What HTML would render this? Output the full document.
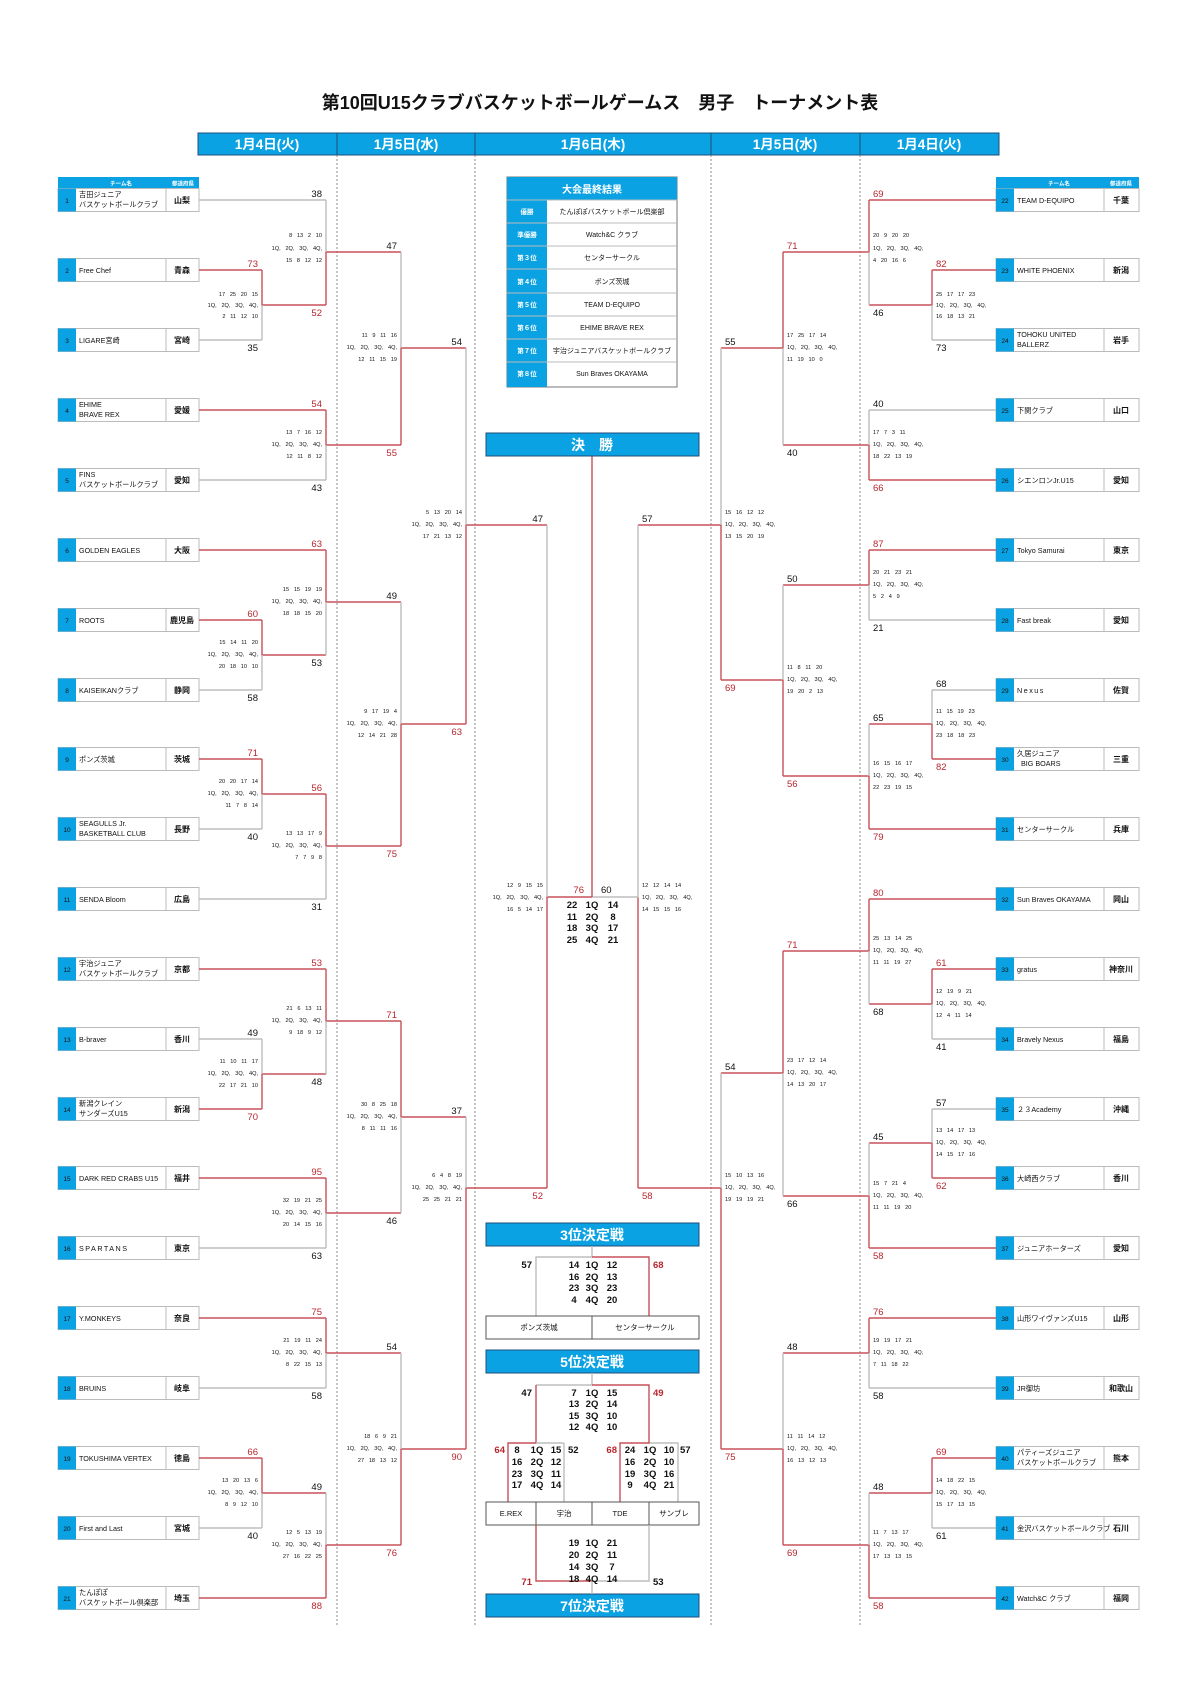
<!DOCTYPE html>
<html><head><meta charset="utf-8"><style>
html,body{margin:0;padding:0;background:#fff}
svg{display:block}
text{font-family:"Liberation Sans","Noto Sans CJK JP",sans-serif;fill:#111}
.g{stroke:#bdbdbd;stroke-width:1.4;fill:none}
.r{stroke:#c8505a;stroke-width:1.4;fill:none}
.lbl{font-size:9.5px}
.rd{fill:#b8262e}
.sb{font-size:5.6px;word-spacing:3.2px}
.nm{font-size:7.2px}
.pf{font-size:8px;font-weight:bold}
.no{font-size:6.5px;fill:#fff}
.wt{fill:#fff;font-weight:bold}
.q{font-size:9.5px;font-weight:bold}
</style></head><body>
<svg width="1200" height="1697" viewBox="0 0 1200 1697" xmlns="http://www.w3.org/2000/svg">
<text x="600" y="109" text-anchor="middle" style="font-size:18px;font-weight:bold">第10回U15クラブバスケットボールゲームス　男子　トーナメント表</text>
<!-- header -->
<rect x="198" y="133" width="801" height="22" fill="#0aa2e2" stroke="#1f4e79" stroke-width="1"/>
<path d="M337 133V155M475 133V155M711 133V155M860 133V155" stroke="#1f4e79" stroke-width="1"/>
<g class="wt" style="font-size:13.5px" text-anchor="middle">
<text x="267" y="149" class="wt">1月4日(火)</text><text x="406" y="149" class="wt">1月5日(水)</text><text x="593" y="149" class="wt">1月6日(木)</text><text x="785" y="149" class="wt">1月5日(水)</text><text x="929" y="149" class="wt">1月4日(火)</text>
</g>
<path d="M337 155V1625M475 155V1625M711 155V1625M860 155V1625" stroke="#888" stroke-width="1" stroke-dasharray="2,2"/>

<!-- team tables headers -->
<rect x="58" y="177" width="141" height="12" fill="#0aa2e2"/>
<rect x="996" y="177" width="143" height="12" fill="#0aa2e2"/>
<g style="font-size:5.5px" text-anchor="middle"><text x="121" y="185.5" class="wt">チーム名</text><text x="183" y="185.5" class="wt">都道府県</text><text x="1059" y="185.5" class="wt">チーム名</text><text x="1121" y="185.5" class="wt">都道府県</text></g>

<!-- LEFT TEAMS -->
<g fill="#fff" stroke="#bbb" stroke-width="1">
<rect x="58" y="188.5" width="141" height="23"/><rect x="58" y="258.5" width="141" height="23"/><rect x="58" y="328.5" width="141" height="23"/><rect x="58" y="398.5" width="141" height="23"/><rect x="58" y="468.5" width="141" height="23"/><rect x="58" y="538.5" width="141" height="23"/><rect x="58" y="608.5" width="141" height="23"/><rect x="58" y="678.5" width="141" height="23"/><rect x="58" y="747.5" width="141" height="23"/><rect x="58" y="817.5" width="141" height="23"/><rect x="58" y="887.5" width="141" height="23"/><rect x="58" y="957.5" width="141" height="23"/><rect x="58" y="1027.5" width="141" height="23"/><rect x="58" y="1097.5" width="141" height="23"/><rect x="58" y="1166.5" width="141" height="23"/><rect x="58" y="1236.5" width="141" height="23"/><rect x="58" y="1306.5" width="141" height="23"/><rect x="58" y="1376.5" width="141" height="23"/><rect x="58" y="1446.5" width="141" height="23"/><rect x="58" y="1516.5" width="141" height="23"/><rect x="58" y="1586.5" width="141" height="23"/>
</g>
<g fill="#0aa2e2">
<rect x="58" y="188.5" width="18" height="23"/><rect x="58" y="258.5" width="18" height="23"/><rect x="58" y="328.5" width="18" height="23"/><rect x="58" y="398.5" width="18" height="23"/><rect x="58" y="468.5" width="18" height="23"/><rect x="58" y="538.5" width="18" height="23"/><rect x="58" y="608.5" width="18" height="23"/><rect x="58" y="678.5" width="18" height="23"/><rect x="58" y="747.5" width="18" height="23"/><rect x="58" y="817.5" width="18" height="23"/><rect x="58" y="887.5" width="18" height="23"/><rect x="58" y="957.5" width="18" height="23"/><rect x="58" y="1027.5" width="18" height="23"/><rect x="58" y="1097.5" width="18" height="23"/><rect x="58" y="1166.5" width="18" height="23"/><rect x="58" y="1236.5" width="18" height="23"/><rect x="58" y="1306.5" width="18" height="23"/><rect x="58" y="1376.5" width="18" height="23"/><rect x="58" y="1446.5" width="18" height="23"/><rect x="58" y="1516.5" width="18" height="23"/><rect x="58" y="1586.5" width="18" height="23"/>
</g>
<path stroke="#bbb" fill="none" d="M166 188.5v23M166 258.5v23M166 328.5v23M166 398.5v23M166 468.5v23M166 538.5v23M166 608.5v23M166 678.5v23M166 747.5v23M166 817.5v23M166 887.5v23M166 957.5v23M166 1027.5v23M166 1097.5v23M166 1166.5v23M166 1236.5v23M166 1306.5v23M166 1376.5v23M166 1446.5v23M166 1516.5v23M166 1586.5v23"/>
<g class="no" text-anchor="middle">
<text x="67" y="203">1</text><text x="67" y="273">2</text><text x="67" y="343">3</text><text x="67" y="413">4</text><text x="67" y="483">5</text><text x="67" y="553">6</text><text x="67" y="623">7</text><text x="67" y="693">8</text><text x="67" y="762">9</text><text x="67" y="832">10</text><text x="67" y="902">11</text><text x="67" y="972">12</text><text x="67" y="1042">13</text><text x="67" y="1112">14</text><text x="67" y="1181">15</text><text x="67" y="1251">16</text><text x="67" y="1321">17</text><text x="67" y="1391">18</text><text x="67" y="1461">19</text><text x="67" y="1531">20</text><text x="67" y="1601">21</text>
</g>
<g class="nm">
<text x="79" y="197">吉田ジュニア</text><text x="79" y="207">バスケットボールクラブ</text>
<text x="79" y="273">Free Chef</text>
<text x="79" y="343">LIGARE宮崎</text>
<text x="79" y="407">EHIME</text><text x="79" y="417">BRAVE REX</text>
<text x="79" y="477">FINS</text><text x="79" y="487">バスケットボールクラブ</text>
<text x="79" y="553">GOLDEN EAGLES</text>
<text x="79" y="623">ROOTS</text>
<text x="79" y="693">KAISEIKANクラブ</text>
<text x="79" y="762">ポンズ茨城</text>
<text x="79" y="826">SEAGULLS Jr.</text><text x="79" y="836">BASKETBALL CLUB</text>
<text x="79" y="902">SENDA Bloom</text>
<text x="79" y="966">宇治ジュニア</text><text x="79" y="976">バスケットボールクラブ</text>
<text x="79" y="1042">B-braver</text>
<text x="79" y="1106">新潟クレイン</text><text x="79" y="1116">サンダーズU15</text>
<text x="79" y="1181">DARK RED CRABS U15</text>
<text x="79" y="1251" style="letter-spacing:1.5px">SPARTANS</text>
<text x="79" y="1321">Y.MONKEYS</text>
<text x="79" y="1391">BRUINS</text>
<text x="79" y="1461">TOKUSHIMA VERTEX</text>
<text x="79" y="1531">First and Last</text>
<text x="79" y="1595">たんぽぽ</text><text x="79" y="1605">バスケットボール倶楽部</text>
</g>
<g class="pf" text-anchor="middle">
<text x="182" y="203">山梨</text><text x="182" y="273">青森</text><text x="182" y="343">宮崎</text><text x="182" y="413">愛媛</text><text x="182" y="483">愛知</text><text x="182" y="553">大阪</text><text x="182" y="623">鹿児島</text><text x="182" y="693">静岡</text><text x="182" y="762">茨城</text><text x="182" y="832">長野</text><text x="182" y="902">広島</text><text x="182" y="972">京都</text><text x="182" y="1042">香川</text><text x="182" y="1112">新潟</text><text x="182" y="1181">福井</text><text x="182" y="1251">東京</text><text x="182" y="1321">奈良</text><text x="182" y="1391">岐阜</text><text x="182" y="1461">徳島</text><text x="182" y="1531">宮城</text><text x="182" y="1601">埼玉</text>
</g>

<!-- RIGHT TEAMS -->
<g fill="#fff" stroke="#bbb" stroke-width="1">
<rect x="996" y="188.5" width="143" height="23"/><rect x="996" y="258.5" width="143" height="23"/><rect x="996" y="328.5" width="143" height="23"/><rect x="996" y="398.5" width="143" height="23"/><rect x="996" y="468.5" width="143" height="23"/><rect x="996" y="538.5" width="143" height="23"/><rect x="996" y="608.5" width="143" height="23"/><rect x="996" y="678.5" width="143" height="23"/><rect x="996" y="747.5" width="143" height="23"/><rect x="996" y="817.5" width="143" height="23"/><rect x="996" y="887.5" width="143" height="23"/><rect x="996" y="957.5" width="143" height="23"/><rect x="996" y="1027.5" width="143" height="23"/><rect x="996" y="1097.5" width="143" height="23"/><rect x="996" y="1166.5" width="143" height="23"/><rect x="996" y="1236.5" width="143" height="23"/><rect x="996" y="1306.5" width="143" height="23"/><rect x="996" y="1376.5" width="143" height="23"/><rect x="996" y="1446.5" width="143" height="23"/><rect x="996" y="1516.5" width="143" height="23"/><rect x="996" y="1586.5" width="143" height="23"/>
</g>
<g fill="#0aa2e2">
<rect x="996" y="188.5" width="18" height="23"/><rect x="996" y="258.5" width="18" height="23"/><rect x="996" y="328.5" width="18" height="23"/><rect x="996" y="398.5" width="18" height="23"/><rect x="996" y="468.5" width="18" height="23"/><rect x="996" y="538.5" width="18" height="23"/><rect x="996" y="608.5" width="18" height="23"/><rect x="996" y="678.5" width="18" height="23"/><rect x="996" y="747.5" width="18" height="23"/><rect x="996" y="817.5" width="18" height="23"/><rect x="996" y="887.5" width="18" height="23"/><rect x="996" y="957.5" width="18" height="23"/><rect x="996" y="1027.5" width="18" height="23"/><rect x="996" y="1097.5" width="18" height="23"/><rect x="996" y="1166.5" width="18" height="23"/><rect x="996" y="1236.5" width="18" height="23"/><rect x="996" y="1306.5" width="18" height="23"/><rect x="996" y="1376.5" width="18" height="23"/><rect x="996" y="1446.5" width="18" height="23"/><rect x="996" y="1516.5" width="18" height="23"/><rect x="996" y="1586.5" width="18" height="23"/>
</g>
<path stroke="#bbb" fill="none" d="M1104 188.5v23M1104 258.5v23M1104 328.5v23M1104 398.5v23M1104 468.5v23M1104 538.5v23M1104 608.5v23M1104 678.5v23M1104 747.5v23M1104 817.5v23M1104 887.5v23M1104 957.5v23M1104 1027.5v23M1104 1097.5v23M1104 1166.5v23M1104 1236.5v23M1104 1306.5v23M1104 1376.5v23M1104 1446.5v23M1104 1516.5v23M1104 1586.5v23"/>
<g class="no" text-anchor="middle">
<text x="1005" y="203">22</text><text x="1005" y="273">23</text><text x="1005" y="343">24</text><text x="1005" y="413">25</text><text x="1005" y="483">26</text><text x="1005" y="553">27</text><text x="1005" y="623">28</text><text x="1005" y="693">29</text><text x="1005" y="762">30</text><text x="1005" y="832">31</text><text x="1005" y="902">32</text><text x="1005" y="972">33</text><text x="1005" y="1042">34</text><text x="1005" y="1112">35</text><text x="1005" y="1181">36</text><text x="1005" y="1251">37</text><text x="1005" y="1321">38</text><text x="1005" y="1391">39</text><text x="1005" y="1461">40</text><text x="1005" y="1531">41</text><text x="1005" y="1601">42</text>
</g>
<g class="nm">
<text x="1017" y="203">TEAM D-EQUIPO</text>
<text x="1017" y="273">WHITE  PHOENIX</text>
<text x="1017" y="337">TOHOKU UNITED</text><text x="1017" y="347">BALLERZ</text>
<text x="1017" y="413">下関クラブ</text>
<text x="1017" y="483">シエンロンJr.U15</text>
<text x="1017" y="553">Tokyo Samurai</text>
<text x="1017" y="623">Fast break</text>
<text x="1017" y="693" style="letter-spacing:1.5px">Nexus</text>
<text x="1017" y="756">久居ジュニア</text><text x="1021" y="766">BIG BOARS</text>
<text x="1017" y="832">センターサークル</text>
<text x="1017" y="902">Sun Braves OKAYAMA</text>
<text x="1017" y="972">gratus</text>
<text x="1017" y="1042">Bravely Nexus</text>
<text x="1017" y="1112">２３Academy</text>
<text x="1017" y="1181">大崎西クラブ</text>
<text x="1017" y="1251">ジュニアホーターズ</text>
<text x="1017" y="1321">山形ワイヴァンズU15</text>
<text x="1017" y="1391">JR御坊</text>
<text x="1017" y="1455">パティーズジュニア</text><text x="1017" y="1465">バスケットボールクラブ</text>
<text x="1017" y="1531">金沢バスケットボールクラブ</text>
<text x="1017" y="1601">Watch&amp;C クラブ</text>
</g>
<g class="pf" text-anchor="middle">
<text x="1121" y="203">千葉</text><text x="1121" y="273">新潟</text><text x="1121" y="343">岩手</text><text x="1121" y="413">山口</text><text x="1121" y="483">愛知</text><text x="1121" y="553">東京</text><text x="1121" y="623">愛知</text><text x="1121" y="693">佐賀</text><text x="1121" y="762">三重</text><text x="1121" y="832">兵庫</text><text x="1121" y="902">岡山</text><text x="1121" y="972">神奈川</text><text x="1121" y="1042">福島</text><text x="1121" y="1112">沖縄</text><text x="1121" y="1181">香川</text><text x="1121" y="1251">愛知</text><text x="1121" y="1321">山形</text><text x="1121" y="1391">和歌山</text><text x="1121" y="1461">熊本</text><text x="1121" y="1531">石川</text><text x="1121" y="1601">福岡</text>
</g>

<!-- team horizontals left -->
<path class="g" d="M199 200H326M199 340H262M199 480H326M199 690H262M199 829H262M199 899H326M199 1039H262M199 1248H326M199 1388H326M199 1528H262"/>
<path class="r" d="M199 270H262M199 410H326M199 550H326M199 620H262M199 759H262M199 969H326M199 1109H262M199 1178H326M199 1318H326M199 1458H262M199 1598H326"/>
<!-- team horizontals right -->
<path class="g" d="M996 340H932M996 410H869M996 620H869M996 690H932M996 1039H932M996 1109H932M996 1388H869M996 1528H932"/>
<path class="r" d="M996 200H869M996 270H932M996 480H869M996 550H869M996 759H932M996 829H869M996 899H869M996 969H932M996 1178H932M996 1248H869M996 1318H869M996 1458H932M996 1598H869"/>

<!-- left matches -->
<path class="r" d="M262 270V305H326M326 305V252H401M326 410V445H401M401 445V348H466M262 620V655H326M326 550V602H401M262 759V794H326M326 794V846H401M401 846V724H466M466 724V525H547M262 1109V1074H326M326 969V1021H401M326 1178V1213H401M401 1021V1117H466M326 1318V1353H401M262 1458V1493H326M326 1598V1545H401M401 1545V1449H466M466 1449V1188H547M547 1188V897H592"/>
<path class="g" d="M262 340V305M326 200V252M326 480V445M401 252V348M262 690V655M326 655V602M262 829V794M326 899V846M401 602V724M466 348V525M262 1039V1074M326 1074V1021M326 1248V1213M401 1213V1117M326 1388V1353M262 1528V1493M326 1493V1545M401 1353V1449M466 1117V1188M547 525V897"/>
<!-- right matches -->
<path class="r" d="M932 270V305H869M869 200V252H783M869 480V445H783M783 252V348H721M869 550V585H783M932 759V724H869M869 829V776H783M783 776V680H721M721 680V525H638M932 969V1004H869M869 899V951H783M932 1178V1143H869M869 1248V1196H783M783 951V1073H721M869 1318V1353H783M932 1458V1493H869M869 1598V1545H783M783 1545V1449H721M721 1449V1188H638M638 1188V897"/>
<path class="g" d="M932 340V305M869 305V252M869 410V445M783 445V348M869 620V585M932 690V724M869 724V776M783 585V680M721 348V525M932 1039V1004M869 1004V951M932 1109V1143M869 1143V1196M783 1196V1073M869 1388V1353M932 1528V1493M869 1493V1545M783 1353V1449M721 1073V1188M638 525V897H592"/>
<path class="r" d="M592 456V897"/>

<!-- left score labels -->
<g class="lbl" text-anchor="end">
<text x="258" y="267" class="rd">73</text><text x="258" y="351">35</text>
<text x="322" y="197">38</text><text x="322" y="316" class="rd">52</text>
<text x="322" y="407" class="rd">54</text><text x="322" y="491">43</text>
<text x="397" y="249">47</text><text x="397" y="456" class="rd">55</text>
<text x="258" y="617" class="rd">60</text><text x="258" y="701">58</text>
<text x="322" y="547" class="rd">63</text><text x="322" y="666">53</text>
<text x="258" y="756" class="rd">71</text><text x="258" y="840">40</text>
<text x="322" y="791" class="rd">56</text><text x="322" y="910">31</text>
<text x="397" y="599">49</text><text x="397" y="857" class="rd">75</text>
<text x="462" y="345">54</text><text x="462" y="735" class="rd">63</text>
<text x="258" y="1036">49</text><text x="258" y="1120" class="rd">70</text>
<text x="322" y="966" class="rd">53</text><text x="322" y="1085">48</text>
<text x="322" y="1175" class="rd">95</text><text x="322" y="1259">63</text>
<text x="397" y="1018" class="rd">71</text><text x="397" y="1224">46</text>
<text x="322" y="1315" class="rd">75</text><text x="322" y="1399">58</text>
<text x="258" y="1455" class="rd">66</text><text x="258" y="1539">40</text>
<text x="322" y="1490">49</text><text x="322" y="1609" class="rd">88</text>
<text x="397" y="1350">54</text><text x="397" y="1556" class="rd">76</text>
<text x="462" y="1114">37</text><text x="462" y="1460" class="rd">90</text>
<text x="543" y="522">47</text><text x="543" y="1199" class="rd">52</text>
</g>
<!-- right score labels -->
<g class="lbl">
<text x="936" y="267" class="rd">82</text><text x="936" y="351">73</text>
<text x="873" y="197" class="rd">69</text><text x="873" y="316">46</text>
<text x="873" y="407">40</text><text x="873" y="491" class="rd">66</text>
<text x="787" y="249" class="rd">71</text><text x="787" y="456">40</text>
<text x="873" y="547" class="rd">87</text><text x="873" y="631">21</text>
<text x="936" y="687">68</text><text x="936" y="770" class="rd">82</text>
<text x="873" y="721">65</text><text x="873" y="840" class="rd">79</text>
<text x="787" y="582">50</text><text x="787" y="787" class="rd">56</text>
<text x="725" y="345">55</text><text x="725" y="691" class="rd">69</text>
<text x="936" y="966" class="rd">61</text><text x="936" y="1050">41</text>
<text x="873" y="896" class="rd">80</text><text x="873" y="1015">68</text>
<text x="936" y="1106">57</text><text x="936" y="1189" class="rd">62</text>
<text x="873" y="1140">45</text><text x="873" y="1259" class="rd">58</text>
<text x="787" y="948" class="rd">71</text><text x="787" y="1207">66</text>
<text x="873" y="1315" class="rd">76</text><text x="873" y="1399">58</text>
<text x="936" y="1455" class="rd">69</text><text x="936" y="1539">61</text>
<text x="873" y="1490">48</text><text x="873" y="1609" class="rd">58</text>
<text x="787" y="1350">48</text><text x="787" y="1556" class="rd">69</text>
<text x="725" y="1070">54</text><text x="725" y="1460" class="rd">75</text>
<text x="642" y="522">57</text><text x="642" y="1199" class="rd">58</text>
</g>

<!-- left quarter blocks -->
<g class="sb" text-anchor="end">
<text x="258" y="296">17 25 20 15</text><text x="258" y="307">1Q, 2Q, 3Q, 4Q,</text><text x="258" y="318">2 11 12 10</text>
<text x="322" y="237">8 13 2 10</text><text x="322" y="250">1Q, 2Q, 3Q, 4Q,</text><text x="322" y="262">15 8 12 12</text>
<text x="322" y="434">13 7 16 12</text><text x="322" y="446">1Q, 2Q, 3Q, 4Q,</text><text x="322" y="458">12 11 8 12</text>
<text x="397" y="337">11 9 11 16</text><text x="397" y="349">1Q, 2Q, 3Q, 4Q,</text><text x="397" y="361">12 11 15 19</text>
<text x="258" y="644">15 14 11 20</text><text x="258" y="656">1Q, 2Q, 3Q, 4Q,</text><text x="258" y="668">20 18 10 10</text>
<text x="322" y="591">15 15 19 19</text><text x="322" y="603">1Q, 2Q, 3Q, 4Q,</text><text x="322" y="615">18 18 15 20</text>
<text x="258" y="783">20 20 17 14</text><text x="258" y="795">1Q, 2Q, 3Q, 4Q,</text><text x="258" y="807">11 7 8 14</text>
<text x="322" y="835">13 13 17 9</text><text x="322" y="847">1Q, 2Q, 3Q, 4Q,</text><text x="322" y="859">7 7 9 8</text>
<text x="397" y="713">9 17 19 4</text><text x="397" y="725">1Q, 2Q, 3Q, 4Q,</text><text x="397" y="737">12 14 21 28</text>
<text x="462" y="514">5 13 20 14</text><text x="462" y="526">1Q, 2Q, 3Q, 4Q,</text><text x="462" y="538">17 21 13 12</text>
<text x="258" y="1063">11 10 11 17</text><text x="258" y="1075">1Q, 2Q, 3Q, 4Q,</text><text x="258" y="1087">22 17 21 10</text>
<text x="322" y="1010">21 6 13 11</text><text x="322" y="1022">1Q, 2Q, 3Q, 4Q,</text><text x="322" y="1034">9 18 9 12</text>
<text x="322" y="1202">32 19 21 25</text><text x="322" y="1214">1Q, 2Q, 3Q, 4Q,</text><text x="322" y="1226">20 14 15 16</text>
<text x="397" y="1106">30 8 25 18</text><text x="397" y="1118">1Q, 2Q, 3Q, 4Q,</text><text x="397" y="1130">8 11 11 16</text>
<text x="322" y="1342">21 19 11 24</text><text x="322" y="1354">1Q, 2Q, 3Q, 4Q,</text><text x="322" y="1366">8 22 15 13</text>
<text x="258" y="1482">13 20 13 6</text><text x="258" y="1494">1Q, 2Q, 3Q, 4Q,</text><text x="258" y="1506">8 9 12 10</text>
<text x="322" y="1534">12 5 13 19</text><text x="322" y="1546">1Q, 2Q, 3Q, 4Q,</text><text x="322" y="1558">27 16 22 25</text>
<text x="397" y="1438">18 6 9 21</text><text x="397" y="1450">1Q, 2Q, 3Q, 4Q,</text><text x="397" y="1462">27 18 13 12</text>
<text x="462" y="1177">6 4 8 19</text><text x="462" y="1189">1Q, 2Q, 3Q, 4Q,</text><text x="462" y="1201">25 25 21 21</text>
<text x="543" y="887">12 9 15 15</text><text x="543" y="899">1Q, 2Q, 3Q, 4Q,</text><text x="543" y="911">16 5 14 17</text>
</g>
<!-- right quarter blocks -->
<g class="sb">
<text x="936" y="296">25 17 17 23</text><text x="936" y="307">1Q, 2Q, 3Q, 4Q,</text><text x="936" y="318">16 18 13 21</text>
<text x="873" y="237">20 9 20 20</text><text x="873" y="250">1Q, 2Q, 3Q, 4Q,</text><text x="873" y="262">4 20 16 6</text>
<text x="873" y="434">17 7 3 11</text><text x="873" y="446">1Q, 2Q, 3Q, 4Q,</text><text x="873" y="458">18 22 13 19</text>
<text x="787" y="337">17 25 17 14</text><text x="787" y="349">1Q, 2Q, 3Q, 4Q,</text><text x="787" y="361">11 19 10 0</text>
<text x="873" y="574">20 21 23 21</text><text x="873" y="586">1Q, 2Q, 3Q, 4Q,</text><text x="873" y="598">5 2 4 9</text>
<text x="936" y="713">11 15 19 23</text><text x="936" y="725">1Q, 2Q, 3Q, 4Q,</text><text x="936" y="737">23 18 18 23</text>
<text x="873" y="765">16 15 16 17</text><text x="873" y="777">1Q, 2Q, 3Q, 4Q,</text><text x="873" y="789">22 23 19 15</text>
<text x="787" y="669">11 8 11 20</text><text x="787" y="681">1Q, 2Q, 3Q, 4Q,</text><text x="787" y="693">19 20 2 13</text>
<text x="725" y="514">15 16 12 12</text><text x="725" y="526">1Q, 2Q, 3Q, 4Q,</text><text x="725" y="538">13 15 20 19</text>
<text x="936" y="993">12 19 9 21</text><text x="936" y="1005">1Q, 2Q, 3Q, 4Q,</text><text x="936" y="1017">12 4 11 14</text>
<text x="873" y="940">25 13 14 25</text><text x="873" y="952">1Q, 2Q, 3Q, 4Q,</text><text x="873" y="964">11 11 19 27</text>
<text x="936" y="1132">13 14 17 13</text><text x="936" y="1144">1Q, 2Q, 3Q, 4Q,</text><text x="936" y="1156">14 15 17 16</text>
<text x="873" y="1185">15 7 21 4</text><text x="873" y="1197">1Q, 2Q, 3Q, 4Q,</text><text x="873" y="1209">11 11 19 20</text>
<text x="787" y="1062">23 17 12 14</text><text x="787" y="1074">1Q, 2Q, 3Q, 4Q,</text><text x="787" y="1086">14 13 20 17</text>
<text x="873" y="1342">19 19 17 21</text><text x="873" y="1354">1Q, 2Q, 3Q, 4Q,</text><text x="873" y="1366">7 11 18 22</text>
<text x="936" y="1482">14 18 22 15</text><text x="936" y="1494">1Q, 2Q, 3Q, 4Q,</text><text x="936" y="1506">15 17 13 15</text>
<text x="873" y="1534">11 7 13 17</text><text x="873" y="1546">1Q, 2Q, 3Q, 4Q,</text><text x="873" y="1558">17 13 13 15</text>
<text x="787" y="1438">11 11 14 12</text><text x="787" y="1450">1Q, 2Q, 3Q, 4Q,</text><text x="787" y="1462">16 13 12 13</text>
<text x="725" y="1177">15 10 13 16</text><text x="725" y="1189">1Q, 2Q, 3Q, 4Q,</text><text x="725" y="1201">19 19 19 21</text>
<text x="642" y="887">12 12 14 14</text><text x="642" y="899">1Q, 2Q, 3Q, 4Q,</text><text x="642" y="911">14 15 15 16</text>
</g>

<!-- results table -->
<rect x="507" y="177" width="170" height="210" fill="#fff" stroke="#777" stroke-width="1"/>
<rect x="507" y="177" width="170" height="23" fill="#0aa2e2"/>
<rect x="507" y="200" width="40" height="187" fill="#0aa2e2"/>
<path d="M507 200H677M507 223H677M507 246H677M507 269H677M507 293H677M507 316H677M507 339H677M507 362H677" stroke="#bbb" stroke-width="1"/>
<text x="592" y="193" text-anchor="middle" class="wt" style="font-size:10px">大会最終結果</text>
<g style="font-size:6.5px" text-anchor="middle">
<text x="527" y="214" class="wt">優勝</text><text x="527" y="237" class="wt">準優勝</text><text x="527" y="260" class="wt">第３位</text><text x="527" y="284" class="wt">第４位</text><text x="527" y="307" class="wt">第５位</text><text x="527" y="330" class="wt">第６位</text><text x="527" y="353" class="wt">第７位</text><text x="527" y="376" class="wt">第８位</text>
</g>
<g style="font-size:7px" text-anchor="middle">
<text x="612" y="214">たんぽぽバスケットボール倶楽部</text><text x="612" y="237">Watch&amp;C クラブ</text><text x="612" y="260">センターサークル</text><text x="612" y="284">ポンズ茨城</text><text x="612" y="307">TEAM D-EQUIPO</text><text x="612" y="330">EHIME BRAVE REX</text><text x="612" y="353">宇治ジュニアバスケットボールクラブ</text><text x="612" y="376">Sun Braves OKAYAMA</text>
</g>

<!-- center boxes -->
<g fill="#0aa2e2" stroke="#1f4e79" stroke-width="1">
<rect x="486" y="433" width="213" height="23"/><rect x="486" y="1223" width="213" height="23"/><rect x="486" y="1350" width="213" height="23"/><rect x="486" y="1594" width="213" height="23"/>
</g>
<g class="wt" style="font-size:14px" text-anchor="middle">
<text x="592" y="450" class="wt">決　勝</text><text x="592" y="1240" class="wt">3位決定戦</text><text x="592" y="1367" class="wt">5位決定戦</text><text x="592" y="1611" class="wt">7位決定戦</text>
</g>

<!-- final scores -->
<text x="584" y="893" class="q rd" text-anchor="end" style="font-weight:normal">76</text>
<text x="601" y="893" class="q" style="font-weight:normal">60</text>
<g class="q" text-anchor="middle">
<text x="572" y="908">22</text><text x="592" y="908">1Q</text><text x="613" y="908">14</text>
<text x="572" y="920">11</text><text x="592" y="920">2Q</text><text x="613" y="920">8</text>
<text x="572" y="931">18</text><text x="592" y="931">3Q</text><text x="613" y="931">17</text>
<text x="572" y="943">25</text><text x="592" y="943">4Q</text><text x="613" y="943">21</text>
</g>

<!-- 3rd place -->
<path class="g" d="M592 1246V1257H536V1316"/>
<path class="r" d="M592 1257H649V1316"/>
<text x="532" y="1268" class="q" text-anchor="end">57</text><text x="653" y="1268" class="q rd">68</text>
<g class="q" text-anchor="middle">
<text x="574" y="1268">14</text><text x="592" y="1268">1Q</text><text x="612" y="1268">12</text>
<text x="574" y="1280">16</text><text x="592" y="1280">2Q</text><text x="612" y="1280">13</text>
<text x="574" y="1291">23</text><text x="592" y="1291">3Q</text><text x="612" y="1291">23</text>
<text x="574" y="1303">4</text><text x="592" y="1303">4Q</text><text x="612" y="1303">20</text>
</g>
<rect x="486" y="1316" width="213" height="23" fill="#fff" stroke="#555" stroke-width="1"/>
<path d="M592 1316V1339" stroke="#555"/>
<g style="font-size:7.5px" text-anchor="middle"><text x="539" y="1330">ポンズ茨城</text><text x="645" y="1330">センターサークル</text></g>

<!-- 5th place -->
<path class="g" d="M592 1373V1385H536M564 1443V1502M649 1443H678V1502"/>
<path class="r" d="M536 1385V1443H508V1502M592 1385H649V1443H620V1502"/>
<path class="g" d="M536 1443H564"/>
<text x="532" y="1396" class="q" text-anchor="end">47</text><text x="653" y="1396" class="q rd">49</text>
<g class="q" text-anchor="middle">
<text x="574" y="1396">7</text><text x="592" y="1396">1Q</text><text x="612" y="1396">15</text>
<text x="574" y="1407">13</text><text x="592" y="1407">2Q</text><text x="612" y="1407">14</text>
<text x="574" y="1419">15</text><text x="592" y="1419">3Q</text><text x="612" y="1419">10</text>
<text x="574" y="1430">12</text><text x="592" y="1430">4Q</text><text x="612" y="1430">10</text>
</g>
<text x="505" y="1453" class="q rd" text-anchor="end">64</text><text x="568" y="1453" class="q">52</text>
<g class="q" text-anchor="middle">
<text x="517" y="1453">8</text><text x="537" y="1453">1Q</text><text x="556" y="1453">15</text>
<text x="517" y="1465">16</text><text x="537" y="1465">2Q</text><text x="556" y="1465">12</text>
<text x="517" y="1477">23</text><text x="537" y="1477">3Q</text><text x="556" y="1477">11</text>
<text x="517" y="1488">17</text><text x="537" y="1488">4Q</text><text x="556" y="1488">14</text>
</g>
<text x="617" y="1453" class="q rd" text-anchor="end">68</text><text x="680" y="1453" class="q">57</text>
<g class="q" text-anchor="middle">
<text x="630" y="1453">24</text><text x="650" y="1453">1Q</text><text x="669" y="1453">10</text>
<text x="630" y="1465">16</text><text x="650" y="1465">2Q</text><text x="669" y="1465">10</text>
<text x="630" y="1477">19</text><text x="650" y="1477">3Q</text><text x="669" y="1477">16</text>
<text x="630" y="1488">9</text><text x="650" y="1488">4Q</text><text x="669" y="1488">21</text>
</g>
<rect x="486" y="1502" width="213" height="23" fill="#fff" stroke="#555" stroke-width="1"/>
<path d="M536 1502V1525M592 1502V1525M649 1502V1525" stroke="#555"/>
<g style="font-size:7.5px" text-anchor="middle"><text x="511" y="1516">E.REX</text><text x="564" y="1516">宇治</text><text x="620" y="1516">TDE</text><text x="674" y="1516">サンブレ</text></g>

<!-- 7th place -->
<path class="r" d="M536 1525V1581H592"/>
<path class="g" d="M592 1581H649V1525M592 1581V1594"/>
<text x="532" y="1585" class="q rd" text-anchor="end">71</text><text x="653" y="1585" class="q">53</text>
<g class="q" text-anchor="middle">
<text x="574" y="1546">19</text><text x="592" y="1546">1Q</text><text x="612" y="1546">21</text>
<text x="574" y="1558">20</text><text x="592" y="1558">2Q</text><text x="612" y="1558">11</text>
<text x="574" y="1570">14</text><text x="592" y="1570">3Q</text><text x="612" y="1570">7</text>
<text x="574" y="1582">18</text><text x="592" y="1582">4Q</text><text x="612" y="1582">14</text>
</g>
</svg>
</body></html>
